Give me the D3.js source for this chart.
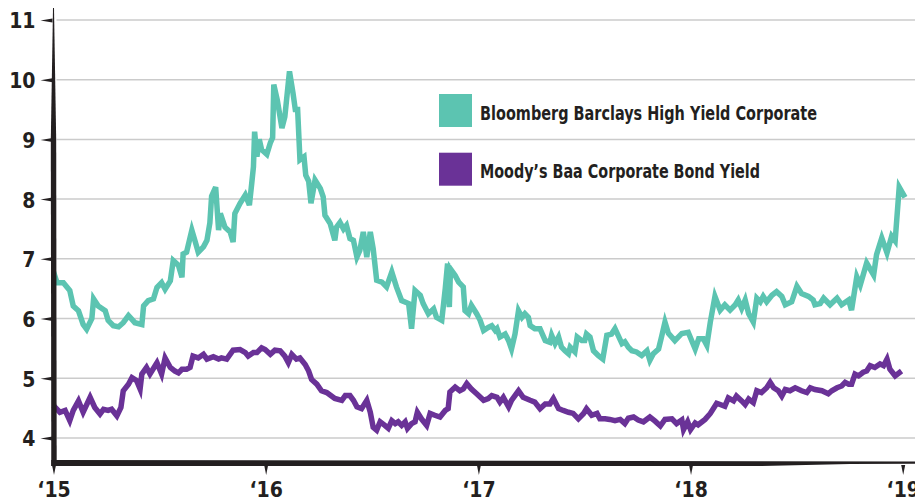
<!DOCTYPE html>
<html>
<head>
<meta charset="utf-8">
<script src="https://cdn.jsdelivr.net/npm/d3@7"></script>
<style>
  body { margin: 0; background: #fff; }
  text { font-family: "Liberation Sans Narrow", "DejaVu Sans Condensed", "Arial Narrow", sans-serif; font-weight: bold; fill: #231f20; }
  .tick text { font-size: 21px; }
  .legend text { font-size: 20px; }
</style>
</head>
<body>
<svg id="chart" width="915" height="498"></svg>
<script>
// weekly-ish readings: [days since 1 Jan 2015, yield %]
var highYield = [
  [0,6.78],[6,6.6],[17,6.6],[28,6.47],[34,6.21],[43,6.13],[51,5.9],[57,5.82],[66,6.0],[69,6.33],
  [77,6.21],[89,6.13],[94,5.97],[103,5.88],[112,5.86],[120,5.93],[129,6.05],[140,5.93],[152,5.9],[155,6.21],
  [163,6.3],[172,6.33],[178,6.52],[186,6.6],[192,6.49],[201,6.63],[206,6.97],[215,6.89],[221,6.69],[223,7.08],
  [229,7.11],[238,7.48],[244,7.28],[249,7.11],[258,7.2],[264,7.31],[269,7.6],[272,8.05],[279,8.2],[284,7.48],
  [287,7.76],[295,7.53],[304,7.45],[309,7.28],[312,7.76],[321,7.93],[330,8.07],[337,7.9],[341,8.26],[344,8.54],
  [346,9.13],[350,8.71],[354,9.0],[358,8.83],[367,8.75],[373,8.94],[377,9.03],[379,9.92],[385,9.66],[393,9.19],
  [398,9.38],[406,10.14],[412,9.78],[416,9.5],[420,9.5],[424,8.66],[431,8.71],[434,8.4],[439,8.3],[443,7.93],
  [450,8.32],[459,8.18],[464,8.04],[467,7.73],
  [476,7.59],[484,7.31],[487,7.53],[493,7.61],[499,7.5],[504,7.56],[510,7.34],[516,7.31],[522,7.03],[527,7.14],
  [533,7.45],[539,7.03],[545,7.45],[550,7.17],[556,6.64],[565,6.61],[573,6.53],[582,6.78],[590,6.53],[599,6.3],
  [611,6.25],[616,5.83],[622,6.47],[631,6.39],[636,6.25],[645,6.08],[654,6.16],[659,6.02],[668,5.97],[674,6.5],
  [678,6.92],[681,6.19],[683,6.83],[691,6.72],[697,6.61],[705,6.53],[708,6.13],[714,6.08],[719,6.22],[728,6.08],
  [734,5.97],[740,5.8],[748,5.85],[754,5.88],[760,5.8],[763,5.83],[768,5.69],[777,5.74],[783,5.63],[788,5.49],
  [794,5.74],[800,6.13],[806,6.02],[811,6.08],[817,6.02],[820,5.88],[828,5.83],[837,5.83],[846,5.63],[854,5.6],
  [857,5.72],[863,5.58],[869,5.69],[874,5.52],[880,5.46],[886,5.41],[889,5.52],[897,5.44],[901,5.69],[909,5.63],
  [914,5.63],[917,5.74],[923,5.69],[929,5.46],[937,5.38],[945,5.32],[952,5.72],[960,5.74],[966,5.83],
  [978,5.58],[983,5.61],[989,5.52],[995,5.46],[1003,5.44],[1012,5.38],[1021,5.46],[1026,5.3],[1032,5.41],[1041,5.49],
  [1046,5.69],[1052,5.94],[1058,5.75],[1069,5.63],[1081,5.75],[1092,5.77],[1104,5.49],[1110,5.66],[1118,5.66],[1124,5.55],
  [1130,5.94],[1138,6.37],[1147,6.14],[1155,6.23],[1164,6.14],[1173,6.23],[1178,6.31],[1184,6.17],[1190,6.31],[1196,6.08],
  [1204,5.94],[1210,6.34],[1216,6.28],[1221,6.37],[1227,6.28],[1236,6.39],[1244,6.45],[1253,6.37],[1259,6.23],[1270,6.28],
  [1279,6.54],[1287,6.42],[1299,6.37],[1307,6.31],[1310,6.23],[1319,6.25],[1325,6.34],[1336,6.23],[1348,6.34],[1356,6.23],
  [1368,6.31],[1373,6.14],[1382,6.7],[1388,6.56],[1399,6.93],[1411,6.73],[1416,7.07],[1425,7.35],[1434,7.1],[1442,7.38],
  [1448,7.3],[1455,8.2],[1465,8.03]
];

var baa = [
  [0,4.54],[11,4.43],[20,4.46],[28,4.29],[34,4.46],[43,4.62],[51,4.43],[63,4.68],[71,4.51],[80,4.4],
  [86,4.48],[94,4.46],[100,4.48],[109,4.37],[116,4.51],[120,4.79],[129,4.9],[135,5.01],[143,4.96],[149,4.82],
  [152,5.07],[160,5.18],[166,5.07],[178,5.26],[186,5.07],[192,5.34],[201,5.18],[209,5.12],[215,5.09],[221,5.15],
  [229,5.15],[235,5.18],[240,5.37],[249,5.34],[258,5.4],[264,5.32],[275,5.36],[284,5.32],[289,5.34],[298,5.32],
  [309,5.47],[321,5.48],[330,5.43],[335,5.37],[344,5.43],[350,5.43],[358,5.51],[364,5.48],[373,5.4],[381,5.47],
  [390,5.46],[398,5.37],[404,5.26],[410,5.4],[418,5.32],[424,5.34],[433,5.23],[439,5.12],[444,4.98],[453,4.9],
  [461,4.79],[470,4.76],
  [484,4.66],[496,4.63],[502,4.71],[510,4.71],[516,4.63],[522,4.52],[530,4.49],[539,4.63],[545,4.43],[550,4.18],
  [556,4.13],[562,4.27],[570,4.21],[576,4.16],[582,4.29],[588,4.24],[593,4.27],[599,4.21],[605,4.27],[609,4.16],
  [616,4.24],[622,4.27],[626,4.43],[633,4.32],[642,4.21],[648,4.41],[656,4.38],[665,4.35],[674,4.46],[679,4.49],
  [682,4.77],[691,4.85],[699,4.79],[705,4.82],[711,4.91],[719,4.82],[728,4.74],[740,4.63],[748,4.66],[754,4.71],
  [763,4.68],[768,4.6],[774,4.68],[783,4.52],[788,4.63],[800,4.79],[808,4.68],[820,4.63],[828,4.6],[837,4.49],
  [846,4.57],[854,4.57],[860,4.66],[869,4.49],[877,4.46],[886,4.43],[894,4.41],[903,4.32],[912,4.41],[917,4.49],
  [926,4.38],[935,4.41],[940,4.32],[949,4.32],[957,4.31],[966,4.29],
  [975,4.31],[983,4.24],[989,4.33],[998,4.35],[1006,4.3],[1015,4.27],[1026,4.35],[1035,4.28],[1044,4.2],[1052,4.31],
  [1064,4.32],[1072,4.24],[1081,4.3],[1084,4.14],[1091,4.27],[1096,4.14],[1104,4.25],[1109,4.22],[1121,4.31],[1130,4.41],
  [1141,4.58],[1147,4.56],[1155,4.53],[1161,4.67],[1170,4.62],[1175,4.7],[1184,4.62],[1190,4.56],[1196,4.65],[1204,4.59],
  [1210,4.79],[1218,4.76],[1227,4.84],[1233,4.93],[1239,4.84],[1247,4.79],[1253,4.7],[1259,4.81],[1267,4.79],[1276,4.84],
  [1287,4.79],[1296,4.76],[1302,4.84],[1310,4.81],[1322,4.79],[1333,4.74],[1339,4.79],[1348,4.84],[1356,4.87],[1362,4.93],
  [1368,4.9],[1373,4.9],[1379,5.07],[1385,5.04],[1393,5.1],[1399,5.12],[1405,5.21],[1413,5.18],[1422,5.24],[1428,5.21],
  [1434,5.32],[1439,5.15],[1448,5.04],[1459,5.12]
];

var yTicks = [4, 5, 6, 7, 8, 9, 10, 11];
var xTickYears = [2015, 2016, 2017, 2018, 2019];
var seriesNames = ["Bloomberg Barclays High Yield Corporate", "Moody\u2019s Baa Corporate Bond Yield"];
var seriesColors = ["#5cc4b1", "#6a3297"];

var start = new Date(2015, 0, 1);
function toDate(d) { return d3.timeDay.offset(start, d); }

var svg = d3.select("#chart");

// set the ranges
var x = d3.scaleTime()
    .domain([new Date(2015, 0, 1), new Date(2019, 0, 1)])
    .range([53.5, 902.7]);
var y = d3.scaleLinear().domain([3.58, 11]).range([463, 20]);

var x0 = x.range()[0], yb = y.range()[0];

// gridlines
svg.append("g").selectAll("line")
    .data(yTicks)
    .enter().append("line")
    .attr("x1", x0 + 3).attr("x2", 915)
    .attr("y1", function(d) { return y(d); })
    .attr("y2", function(d) { return y(d); })
    .attr("stroke", "#cbcbcb")
    .attr("stroke-width", 1.5);

// define the line
var valueline = d3.line()
    .x(function(d) { return x(toDate(d[0])); })
    .y(function(d) { return y(d[1]); });

[highYield, baa].forEach(function(s, i) {
    svg.append("path")
        .datum(s)
        .attr("d", valueline)
        .attr("fill", "none")
        .attr("stroke", seriesColors[i])
        .attr("stroke-width", 5.5)
        .attr("stroke-linejoin", "miter");
});

// tapered axis lines
var axisColor = "#231f20";
svg.append("path")
    .attr("d", "M" + (x0 - 0.5) + "," + (y(11) - 12) +
               "L" + (x0 + 0.5) + "," + (y(11) - 12) +
               "L" + (x0 + 2.7) + "," + y(9) +
               "L" + (x0 + 3.2) + "," + (yb + 3) +
               "L" + (x0 - 2.2) + "," + (yb + 3) +
               "L" + (x0 - 2.7) + "," + y(9) + "Z")
    .attr("fill", axisColor);

svg.append("path")
    .attr("d", "M" + (x0 - 2.2) + "," + (yb - 3) +
               "L915," + (yb - 1.5) +
               "L915," + (yb + 0.7) +
               "L850," + (yb + 1) +
               "L760," + (yb + 3) +
               "L" + (x0 - 2.2) + "," + (yb + 3) + "Z")
    .attr("fill", axisColor);

// Y axis labels and ticks
var yAxis = svg.append("g")
    .attr("transform", "translate(" + x0 + ",0)")
    .call(d3.axisLeft(y).tickValues(yTicks).tickSize(0).tickPadding(18));
yAxis.select(".domain").remove();
yAxis.selectAll(".tick text").attr("dy", "0.38em");
yAxis.selectAll(".tick").append("path")
    .attr("d", "M-1,-2L-13,0L-1,2Z")
    .attr("fill", axisColor);

// X axis labels and ticks
var yearFmt = d3.timeFormat("%y");
var xAxis = svg.append("g")
    .attr("transform", "translate(0," + yb + ")")
    .call(d3.axisBottom(x)
        .tickValues(xTickYears.map(function(yr) { return new Date(yr, 0, 1); }))
        .tickSize(0).tickPadding(19)
        .tickFormat(function(d) { return "\u2018" + yearFmt(d); }));
xAxis.select(".domain").remove();
xAxis.selectAll(".tick path").remove();
xAxis.selectAll(".tick").append("path")
    .attr("d", "M-2,2L0,12L2,2Z")
    .attr("fill", axisColor);

// legend
var legend = svg.append("g").attr("class", "legend");
seriesNames.forEach(function(name, i) {
    var ly = 94 + i * 58.7;
    legend.append("rect")
        .attr("x", 439).attr("y", ly)
        .attr("width", 33).attr("height", 33)
        .attr("fill", seriesColors[i]);
    legend.append("text")
        .attr("x", 480).attr("y", ly + 25.5)
        .attr("textLength", i === 0 ? 337 : 280)
        .attr("lengthAdjust", "spacingAndGlyphs")
        .text(name);
});
</script>
</body>
</html>
